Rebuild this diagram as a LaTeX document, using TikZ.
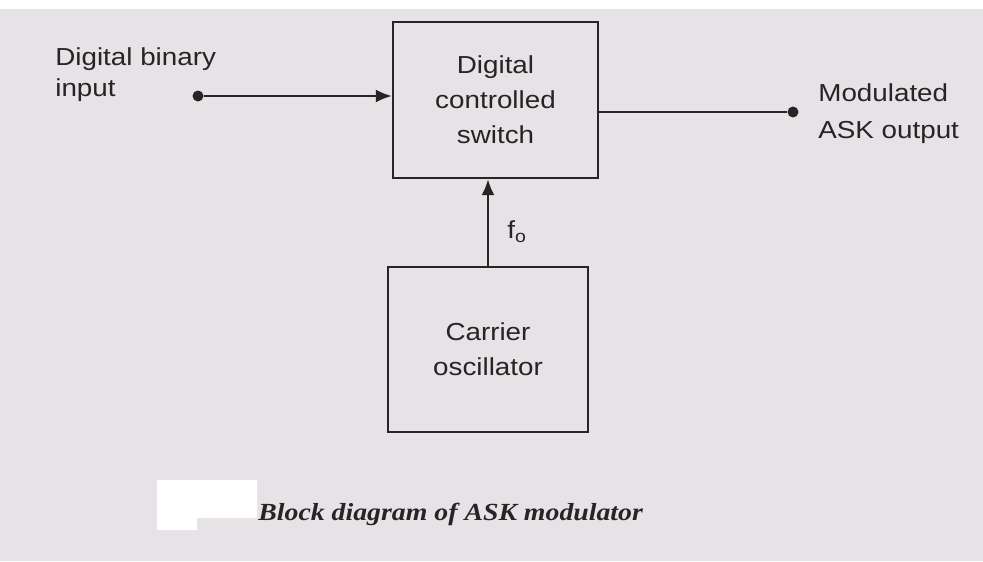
\documentclass[tikz,border=0pt]{standalone}
\usepackage{graphicx}
\usepackage{fontspec}
\setmainfont{Liberation Sans}
\newfontfamily\capfont{Liberation Serif}
\usetikzlibrary{positioning,arrows.meta}
\definecolor{paper}{HTML}{E6E2E6}
\definecolor{ink}{HTML}{252525}
\newcommand{\stretched}[1]{\scalebox{1.13}[1]{#1}}

\begin{document}
\begin{tikzpicture}[
    x=0.02cm, y=-0.02cm,
    every node/.style={text=ink},
    box/.style={draw=ink, line width=1.3pt, inner sep=0pt, align=center,
                font=\fontsize{14}{20}\selectfont},
    lbl/.style={inner sep=0pt, align=left},
    arr/.style={-{Latex[length=3.2mm,width=2.6mm]}, line width=1.3pt, draw=ink},
    dot/.style={circle, fill=ink, inner sep=0pt, minimum size=2.2mm}
]
% page background
\fill[paper] (0,0) rectangle (983,561);
\fill[white] (0,0) rectangle (983,9);

% blocks
\node[box, minimum width=4.1cm, minimum height=3.12cm] (sw) at (495.5,100)
    {\stretched{Digital}\\\stretched{controlled}\\\stretched{switch}};
\node[box, minimum width=4cm, minimum height=3.3cm] (osc) at (488,349.5)
    {\stretched{Carrier}\\\stretched{oscillator}};

% input and output terminals
\node[dot] (din) at (198,96) {};
\node[dot] (dout) at (793,112) {};
\node[lbl, anchor=north west, font=\fontsize{14}{18}\selectfont] (inlbl) at (55,47)
    {\stretched{Digital binary}\\\stretched{input}};
\node[lbl, anchor=north west, font=\fontsize{14}{21}\selectfont] (outlbl) at (818,83)
    {\stretched{Modulated}\\\stretched{ASK output}};

\draw[arr] (din) -- (din -| sw.west);
\draw[ink, line width=1.3pt] (dout -| sw.east) -- (dout);
\draw[arr] (osc.north) -- (osc.north |- sw.south);
\node[lbl, anchor=west, font=\fontsize{14}{16}\selectfont] (fo) at (507,232)
    {\stretched{f\textsubscript{o}}};

% caption
\fill[white] (157,480) -- (257,480) -- (257,518) -- (197,518) -- (197,530) -- (157,530) -- cycle;
\node[lbl, anchor=base west, font=\capfont\bfseries\itshape\fontsize{14}{16}\selectfont] (cap) at (258,520)
    {\stretched{Block diagram of ASK modulator}};
\end{tikzpicture}
\end{document}
